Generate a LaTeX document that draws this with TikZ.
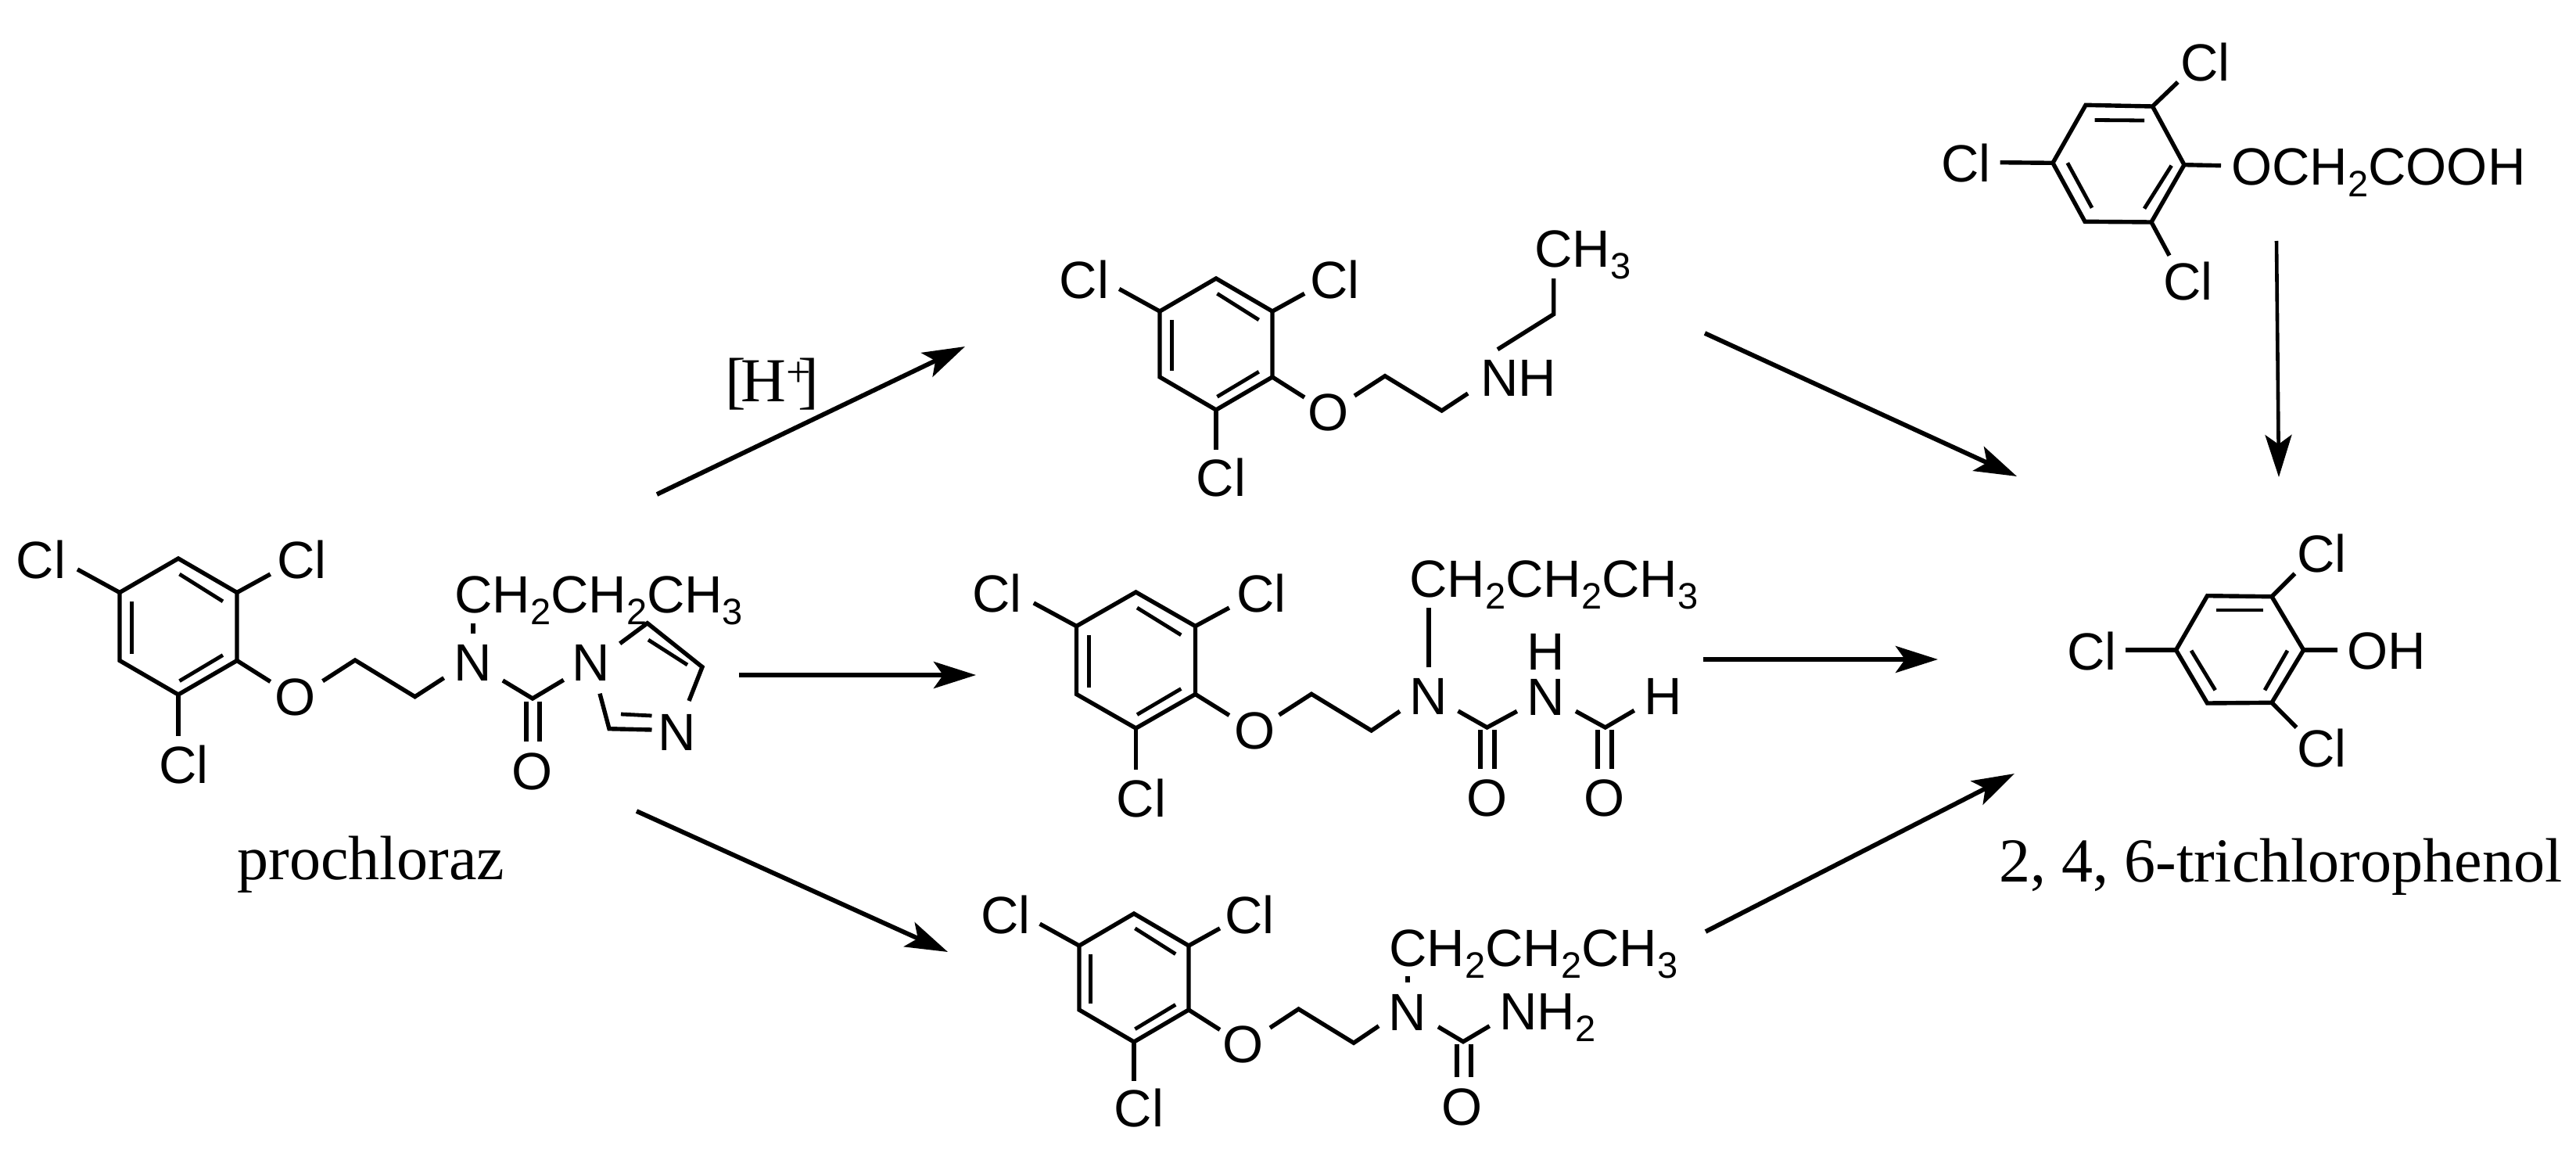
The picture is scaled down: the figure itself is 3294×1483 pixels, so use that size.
\documentclass[tikz,border=0pt]{standalone}
\usepackage{fontspec}
\setmainfont{Liberation Sans}
\newfontfamily\serifname{Liberation Serif}
\usetikzlibrary{arrows.meta}
\tikzset{
  bond/.style={line width=2.7pt,line join=miter},
  inbond/.style={line width=2.4pt},
  rxn/.style={line width=2.9pt,-{Stealth[length=27pt,width=17pt,inset=6pt]}},
  atom/.style={anchor=base,inner sep=0pt,font=\fontsize{33.5}{36}\selectfont},
  chain/.style={anchor=base west,inner sep=0pt,font=\fontsize{33.5}{36}\selectfont},
  caption/.style={anchor=base west,inner sep=0pt,font=\fontsize{40}{44}\serifname},
}
\newcommand{\sbs}[1]{\raisebox{-7.5pt}{\fontsize{23.5}{24}\selectfont #1}}
% atom label given by its vertical centre
\newcommand{\lab}[4]{\node[atom] (#1) at (#2,#3+24) {#4};}
% trichlorophenoxy ring: centre x, centre y, half width, half height, prefix
\newcommand{\benz}[5]{%
  \def\cx{#1}\def\cy{#2}\def\wx{#3}\def\hy{#4}%
  \draw[bond] (\cx,\cy-\hy) -- (\cx+\wx,\cy-.5*\hy) -- (\cx+\wx,\cy+.5*\hy) -- (\cx,\cy+\hy)
     -- (\cx-\wx,\cy+.5*\hy) -- (\cx-\wx,\cy-.5*\hy) -- cycle;
  \draw[inbond] (\cx+.02*\wx,\cy-.77*\hy) -- (\cx+.76*\wx,\cy-.37*\hy);
  \draw[inbond] (\cx-.79*\wx,\cy-.37*\hy) -- (\cx-.79*\wx,\cy+.40*\hy);
  \draw[inbond] (\cx+.02*\wx,\cy+.80*\hy) -- (\cx+.76*\wx,\cy+.42*\hy);
  \draw[bond] (\cx-\wx,\cy-.5*\hy) -- (\cx-1.72*\wx,\cy-.84*\hy);
  \draw[bond] (\cx+\wx,\cy-.5*\hy) -- (\cx+1.57*\wx,\cy-.77*\hy);
  \draw[bond] (\cx,\cy+\hy) -- (\cx,\cy+1.61*\hy);
  \draw[bond] (\cx+\wx,\cy+.5*\hy) -- (\cx+1.57*\wx,\cy+.81*\hy);
  \lab{#5a}{\cx-2.34*\wx}{\cy-.98*\hy}{Cl}
  \lab{#5b}{\cx+2.11*\wx}{\cy-.98*\hy}{Cl}
  \lab{#5c}{\cx+.09*\wx}{\cy+2.03*\hy}{Cl}
  \lab{#5o}{\cx+2.0*\wx}{\cy+1.03*\hy}{O}
}
\begin{document}
\begin{tikzpicture}[x=.5pt,y=-.5pt]
\useasboundingbox (0,0) rectangle (3294,1483);

% ---------- prochloraz
\benz{228}{801}{75}{87}{p}
\draw[bond] (412.6,870.7) -- (454,844) -- (530.6,890.7) -- (567.6,866.7);
\lab{pn}{605}{846.7}{N}
\draw[bond] (605,796.7) -- (605,810);
\node[chain] (pch) at (581,783) {CH\sbs{2}CH\sbs{2}CH\sbs{3}};
\draw[bond] (642.9,870) -- (681,893) -- (720.7,869.3);
\draw[bond] (672.8,896.7) -- (672.8,948);
\draw[bond] (690,896.7) -- (690,948);
\lab{po}{680.5}{985}{O}
\lab{pn1}{756}{846.7}{N}
\draw[bond] (792.7,822.7) -- (827.8,796.7) -- (898,852.7) -- (881,896);
\draw[inbond] (829,818) -- (879,850);
\lab{pn2}{865.5}{935}{N}
\draw[bond] (767,886.7) -- (779,931.7) -- (833.5,933);
\draw[inbond] (794,913) -- (833.5,915);
\node[caption] (pname) at (303,1124) {prochloraz};

% ---------- secondary amine
\benz{1555}{440}{72}{84}{a}
\draw[bond] (1732,506) -- (1771,480.7) -- (1843.6,525) -- (1877,503);
\node[chain] (anh) at (1893,506.7) {NH};
\draw[bond] (1915,446.7) -- (1986.7,401.7) -- (1986.7,356);
\node[chain] (ach) at (1962,341.7) {CH\sbs{3}};

% ---------- formyl urea
\benz{1452.5}{844}{76}{87}{b}
\draw[bond] (1635.6,914) -- (1677,887.3) -- (1753.6,934) -- (1790,909.3);
\lab{bn}{1827}{889}{N}
\draw[bond] (1827,853.3) -- (1827,777.3);
\node[chain] (bch) at (1802,763) {CH\sbs{2}CH\sbs{2}CH\sbs{3}};
\draw[bond] (1864.5,909) -- (1901.5,930) -- (1939.8,909.3);
\draw[bond] (1893,933) -- (1893,982.7);
\draw[bond] (1911,933) -- (1911,982.7);
\lab{bo1}{1901.5}{1019}{O}
\lab{bn2}{1976.8}{890}{N}
\lab{bh1}{1976.8}{832}{H}
\draw[bond] (2015,909.3) -- (2052.7,930) -- (2089.7,908.3);
\draw[bond] (2043,933) -- (2043,982.7);
\draw[bond] (2061,933) -- (2061,982.7);
\lab{bo2}{2052}{1019}{O}
\lab{bh2}{2126.7}{889}{H}

% ---------- urea
\benz{1450}{1250}{70}{82}{c}
\draw[bond] (1624,1314) -- (1660.5,1290) -- (1731,1333.3) -- (1763,1311.7);
\lab{cn}{1800}{1293}{N}
\draw[bond] (1800,1248.3) -- (1800,1256);
\node[chain] (cch) at (1776,1235) {CH\sbs{2}CH\sbs{2}CH\sbs{3}};
\draw[bond] (1839,1312.7) -- (1871,1331.7) -- (1904.7,1311.7);
\draw[bond] (1863,1335) -- (1863,1376.7);
\draw[bond] (1881,1335) -- (1881,1376.7);
\lab{co}{1870}{1414}{O}
\node[chain] (cnh) at (1917,1316.7) {NH\sbs{2}};

% ---------- phenoxyacetic acid
\draw[bond] (2667,134.3) -- (2752.5,136) -- (2793,210.7) -- (2751,284) -- (2666,283.3) -- (2625,208.3) -- cycle;
\draw[inbond] (2678.7,153.5) -- (2742,154);
\draw[inbond] (2776.7,211.7) -- (2742,266.7);
\draw[inbond] (2643.8,208.3) -- (2675,265.7);
\draw[bond] (2752.5,136) -- (2784.8,105);
\draw[bond] (2751,284) -- (2774,326.7);
\draw[bond] (2625,208.3) -- (2557.6,207.7);
\draw[bond] (2793,210.7) -- (2840,211.7);
\lab{da}{2819.8}{79}{Cl}
\lab{db}{2514}{208.7}{Cl}
\lab{dc}{2797.7}{359.7}{Cl}
\node[chain] (dch) at (2853,236.7) {OCH\sbs{2}COOH};

% ---------- 2,4,6-trichlorophenol
\draw[bond] (2822.5,761.7) -- (2905,762.7) -- (2945.6,831) -- (2905,898.3) -- (2822.5,899) -- (2782.5,831) -- cycle;
\draw[inbond] (2834,780) -- (2894,780);
\draw[inbond] (2925,831.7) -- (2896,882.3);
\draw[inbond] (2802,831.7) -- (2832.7,882.3);
\draw[bond] (2905,762.7) -- (2934.4,733.3);
\draw[bond] (2905,898.3) -- (2936.5,930);
\draw[bond] (2782.5,831) -- (2717.7,831);
\draw[bond] (2945.6,831) -- (2988.6,831);
\lab{ea}{2968.9}{707.5}{Cl}
\lab{eb}{2674.7}{832}{Cl}
\lab{ec}{2968.9}{956}{Cl}
\node[chain] (eoh) at (3001,855) {OH};
\node[caption] (ename) at (2556,1127) {2, 4, 6-trichlorophenol};

% ---------- reaction arrows
\coordinate (s1) at (840,632);   \coordinate (t1) at (1234,443);
\coordinate (s2) at (945,863);   \coordinate (t2) at (1248,863);
\coordinate (s3) at (814,1037);  \coordinate (t3) at (1212,1217);
\coordinate (s4) at (2180,426);  \coordinate (t4) at (2579,609);
\coordinate (s5) at (2178,843);  \coordinate (t5) at (2478,843);
\coordinate (s6) at (2181,1191); \coordinate (t6) at (2576,989);
\coordinate (s7) at (2911,308);  \coordinate (t7) at (2914,610);
\foreach \i in {1,...,6} \draw[rxn] (s\i) -- (t\i);
\draw[rxn,line width=2.3pt] (s7) -- (t7);
\node[caption,anchor=base] (acid) at (987,513) {[\kern-3pt H\textsuperscript{+}\kern-9pt ]};
\end{tikzpicture}
\end{document}
